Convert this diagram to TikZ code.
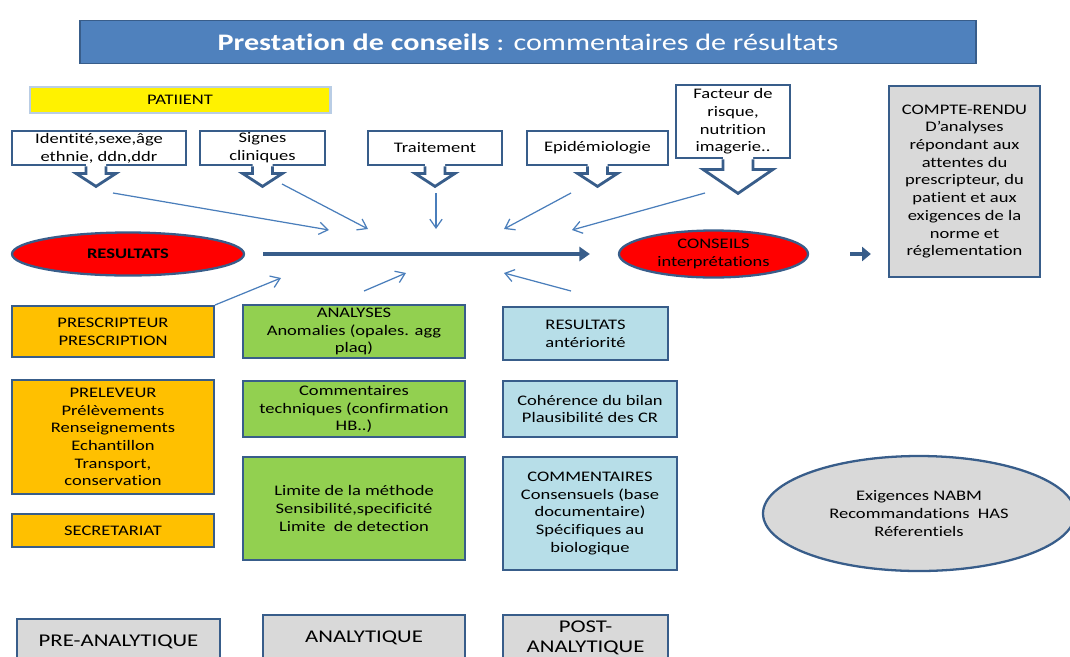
\documentclass[tikz,border=0pt]{standalone}
\usepackage{fontspec}
\setmainfont{Carlito}[FakeStretch=1.27, RawFeature={-liga;-clig;-calt;-dlig}]
\usetikzlibrary{arrows.meta,shapes.geometric}

\definecolor{titleblue}{HTML}{4F81BD}
\definecolor{edgeblue}{HTML}{385D8A}
\definecolor{linkblue}{HTML}{4A7EBB}
\definecolor{paleedge}{HTML}{B9CDE5}
\definecolor{orangebox}{HTML}{FFC000}
\definecolor{greenbox}{HTML}{92D050}
\definecolor{bluebox}{HTML}{B7DEE8}
\definecolor{greybox}{HTML}{D9D9D9}

\tikzset{
  txt/.style={font=\fontsize{8.3}{10.1}\selectfont, align=center, inner sep=0pt},
  box/.style n args={3}{txt, rectangle, draw=edgeblue, line width=1.3pt,
    fill=#1, minimum width=#2*0.02cm, minimum height=#3*0.02cm},
  oval/.style n args={3}{txt, ellipse, draw=edgeblue, line width=1.3pt,
    fill=#1, minimum width=#2*0.02cm, minimum height=#3*0.02cm},
  callout/.style 2 args={box={white}{#1}{#2}, line width=1.6pt},
  calloutline/.style={draw=edgeblue, line width=1.6pt, line join=miter},
  phase/.style 2 args={box={greybox}{#1}{#2}, font=\fontsize{10.2}{11.3}\selectfont},
  link/.style={draw=linkblue, line width=0.7pt, -{Straight Barb[length=5pt,width=7pt]}},
  mainarrow/.style={draw=edgeblue, line width=2.3pt, -{Triangle[length=6pt,width=8pt]}}
}

\newcommand{\calloutarrow}[6]{%
  \path (#1.south) ++(#2,0) coordinate (#1-neck);
  \fill[white] (#1-neck) ++(-#3,-3) -- ++(0,#4+3) -- ++(#3-#5,0) -- ++(#5,#6)
    -- ++(#5,-#6) -- ++(#3-#5,0) -- ++(0,-#4-3) -- cycle;
  \draw[calloutline] (#1-neck) ++(-#3,0) -- ++(0,#4) -- ++(#3-#5,0) -- ++(#5,#6)
    -- ++(#5,-#6) -- ++(#3-#5,0) -- ++(0,-#4);
}

\begin{document}
\begin{tikzpicture}[x=0.02cm, y=-0.02cm]
  \useasboundingbox (0,0) rectangle (1070,656);
  \clip (0,0) rectangle (1070,656);

  \node[box={titleblue}{896}{43}, line width=1.1pt, text=white,
    font=\fontsize{13.5}{16}\selectfont] (title) at (528,42)
    {\textbf{Prestation de conseils} : commentaires de résultats};

  \node[box={yellow}{300}{26}, draw=paleedge, line width=1.7pt] (patient) at (180,100) {PATIIENT};

  \node[callout={174}{34}] (ident) at (99,148) {Identité,sexe,âge\\ethnie, ddn,ddr};
  \node[callout={125}{34}] (signes) at (262.5,148) {Signes\\cliniques};
  \node[callout={134}{34}] (trait) at (435,148) {Traitement};
  \node[callout={141}{34}] (epid) at (597.5,148) {Epidémiologie};
  \node[callout={114}{73}] (facteur) at (733,121.5) {Facteur de\\risque,\\nutrition\\imagerie..};
  \calloutarrow{ident}{-3}{10}{7}{20}{13}
  \calloutarrow{signes}{0}{10}{7}{20}{13}
  \calloutarrow{trait}{0}{10}{7}{20}{13}
  \calloutarrow{epid}{0}{10}{7}{20}{13}
  \calloutarrow{facteur}{5}{15}{10}{35}{24}

  \node[box={greybox}{151}{191}] (compte) at (964.5,181.5)
    {COMPTE-RENDU\\D’analyses\\répondant aux\\attentes du\\prescripteur, du\\patient et aux\\exigences de la\\norme et\\réglementation};

  \node[oval={red}{232}{43}] (res) at (128,254) {\textbf{RESULTATS}};
  \node[oval={red}{189}{47}] (cons) at (713.5,254) {CONSEILS\\interprétations};

  \draw[mainarrow, shorten <=0.36cm, shorten >=0.56cm] (res) -- (cons);
  \draw[mainarrow, line width=2.6pt, -{Triangle[length=5pt,width=8pt]},
    shorten <=0.82cm, shorten >=0.34cm] (cons.east) -- (cons.east -| compte.west);

  \coordinate (from1) at (113,193);  \coordinate (to1) at (329,230);
  \coordinate (from2) at (282,184);  \coordinate (to2) at (368,229);
  \coordinate (from3) at (436,193);  \coordinate (to3) at (436,229);
  \coordinate (from4) at (571,193);  \coordinate (to4) at (504,229);
  \coordinate (from5) at (705,193);  \coordinate (to5) at (572,230);
  \coordinate (from6) at (215,305);  \coordinate (to6) at (281,278);
  \coordinate (from7) at (364,291);  \coordinate (to7) at (406,273);
  \coordinate (from8) at (571,291);  \coordinate (to8) at (504,273);
  \foreach \i in {1,...,8}
    \draw[link] (from\i) -- (to\i);

  \node[box={orangebox}{202}{51}] (prescr) at (113,331.5) {PRESCRIPTEUR\\PRESCRIPTION};
  \node[box={orangebox}{202}{114}] (prelev) at (113,437)
    {PRELEVEUR\\Prélèvements\\Renseignements\\Echantillon\\Transport,\\conservation};
  \node[box={orangebox}{202}{33}] (secret) at (113,530.5) {SECRETARIAT};

  \node[box={greenbox}{222}{53}] (analyses) at (354,331.5) {ANALYSES\\Anomalies (opales. agg\\plaq)};
  \node[box={greenbox}{222}{56}] (commtech) at (354,409) {Commentaires\\techniques (confirmation\\HB..)};
  \node[box={greenbox}{222}{103}] (limite) at (354,508.5)
    {Limite de la méthode\\Sensibilité,specificité\\Limite\ \ de detection};

  \node[box={bluebox}{165}{53}] (anter) at (585.5,333.5) {RESULTATS\\antériorité};
  \node[box={bluebox}{174}{56}] (coher) at (590,409) {Cohérence du bilan\\Plausibilité des CR};
  \node[box={bluebox}{174}{113}] (comment) at (590,513.5)
    {COMMENTAIRES\\Consensuels (base\\documentaire)\\Spécifiques au\\biologique};

  \node[oval={greybox}{312}{115}] (exig) at (919,513.5)
    {Exigences NABM\\Recommandations\ \ HAS\\Réferentiels};

  \node[phase={203}{46}] (pre) at (118.5,642) {PRE-ANALYTIQUE};
  \node[phase={202}{46}] (ana) at (364,638) {ANALYTIQUE};
  \node[phase={165}{46}] (post) at (585.5,638) {POST-\\ANALYTIQUE};
\end{tikzpicture}
\end{document}
